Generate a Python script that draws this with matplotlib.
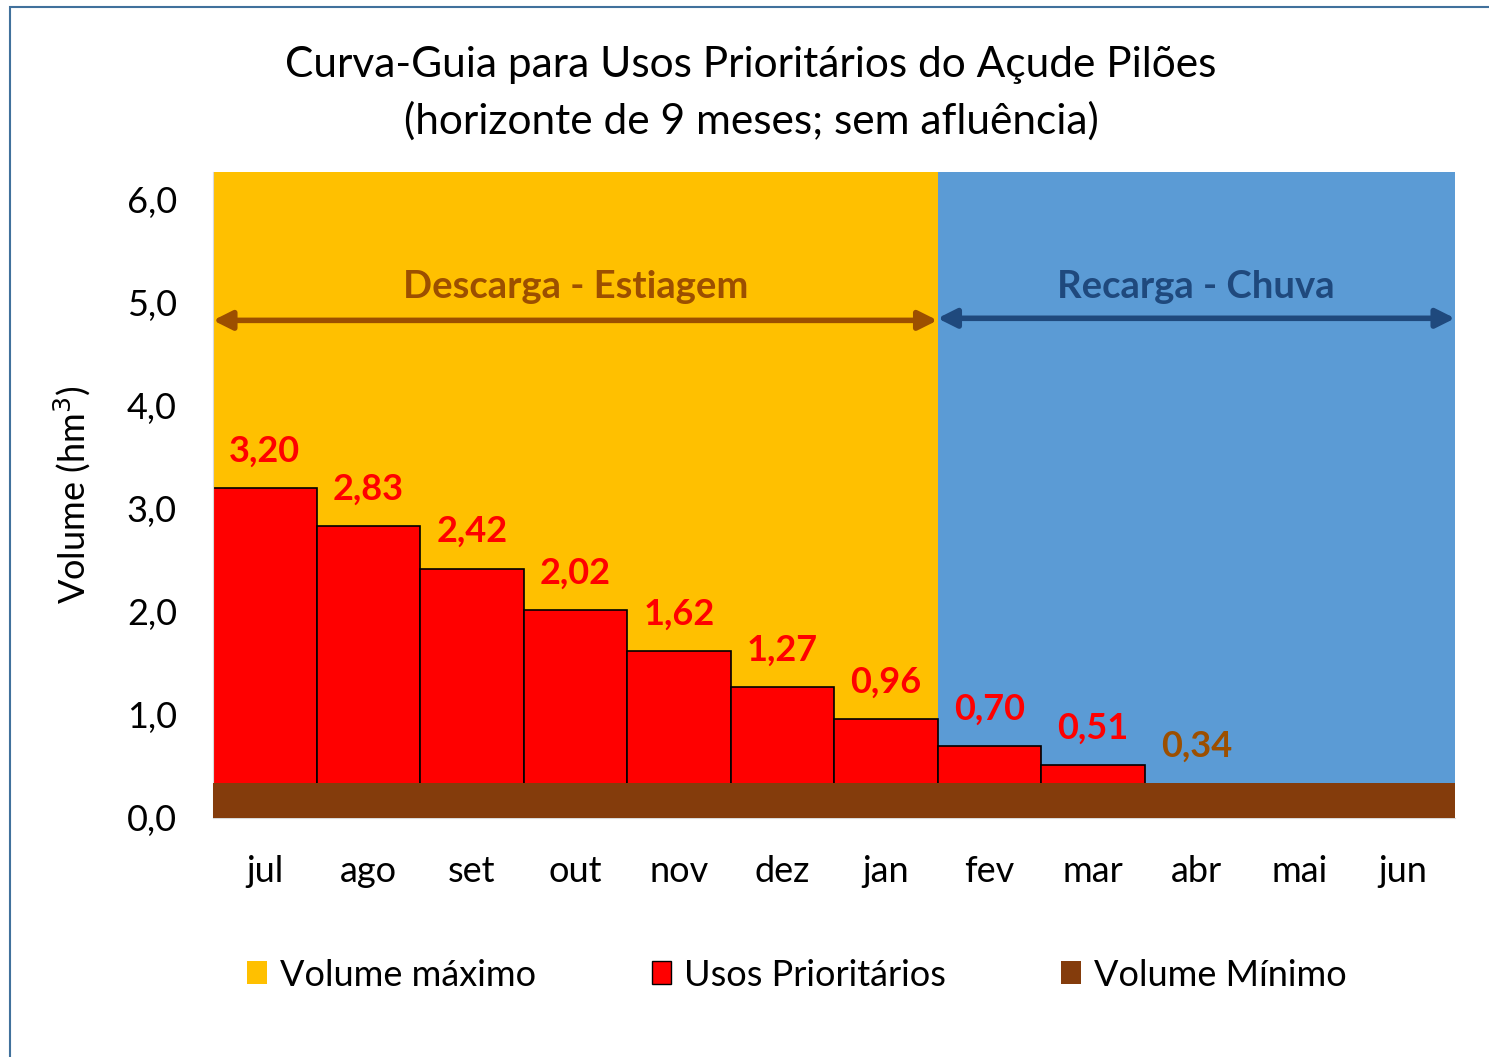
import numpy as np
import matplotlib.pyplot as plt
from matplotlib.patches import Patch, Rectangle

plt.rcParams['font.family'] = ['Lato', 'DejaVu Sans']

meses = ['jul', 'ago', 'set', 'out', 'nov', 'dez', 'jan', 'fev', 'mar', 'abr', 'mai', 'jun']
usos_prioritarios = [3.20, 2.83, 2.42, 2.02, 1.62, 1.27, 0.96, 0.70, 0.51, 0.34, None, None]
volume_minimo = [0.34] * 12
volume_maximo = [6.27] * 7  # jul..jan (descarga)
rotulos_ano = ['Descarga - Estiagem', 'Recarga - Chuva']
yticks = [0, 1, 2, 3, 4, 5, 6]

amarelo = '#FFC000'
azul = '#5B9BD5'
vermelho = '#FF0000'
marrom = '#843C0C'
marrom_txt = '#9C4F00'
azul_txt = '#1F497D'

fig = plt.figure(figsize=(14.89, 10.57), dpi=100)
fig.patches.append(Rectangle((10 / 1489, -0.1), 1.2, 1.1 - 7 / 1057,
                             transform=fig.transFigure, fill=False,
                             edgecolor='#41719C', lw=1.5))
ax = fig.add_axes([213 / 1489, 1 - 818 / 1057, (1455 - 213) / 1489, (818 - 172) / 1057])

x = np.arange(len(meses))
n_desc = len(volume_maximo)

# fundo: volume máximo (descarga) e faixa de recarga
ax.bar(x[:n_desc], volume_maximo, width=1.0, color=amarelo, zorder=1)
ax.axvspan(n_desc - 0.5, len(meses) - 0.5, color=azul, zorder=1, lw=0)

# usos prioritários
for i, v in enumerate(usos_prioritarios):
    if v is None or v <= volume_minimo[i]:
        continue
    ax.bar(x[i], v, width=1.0, color=vermelho, edgecolor='black', lw=1.2, zorder=2)

# volume mínimo
ax.bar(x, volume_minimo, width=1.0, color=marrom, zorder=3, lw=0)

# rótulos
for i, v in enumerate(usos_prioritarios):
    if v is None:
        continue
    cor = marrom_txt if v <= volume_minimo[i] else vermelho
    ax.text(x[i], v + 0.2, f'{v:.2f}'.replace('.', ','), ha='center', va='bottom',
            color=cor, fontsize=26, fontweight='bold', zorder=4)

# setas de período
ax.annotate('', xy=(-0.5, 4.83), xytext=(n_desc - 0.5, 4.83),
            arrowprops=dict(arrowstyle='<|-|>', color=marrom_txt, lw=4,
                            mutation_scale=28, shrinkA=0, shrinkB=0), zorder=5)
ax.annotate('', xy=(n_desc - 0.5, 4.85), xytext=(len(meses) - 0.5, 4.85),
            arrowprops=dict(arrowstyle='<|-|>', color=azul_txt, lw=4,
                            mutation_scale=28, shrinkA=0, shrinkB=0), zorder=5)
ax.text((n_desc - 1) / 2, 5.15, rotulos_ano[0], ha='center', va='center',
        color=marrom_txt, fontsize=27.5, fontweight='bold', zorder=5)
ax.text((n_desc + len(meses) - 1) / 2, 5.15, rotulos_ano[1], ha='center', va='center',
        color=azul_txt, fontsize=27.5, fontweight='bold', zorder=5)

ax.set_xlim(-0.5, len(meses) - 0.5)
ax.set_ylim(0, 6.27)
ax.set_xticks(x)
ax.set_xticklabels(meses, fontsize=26)
ax.set_yticks(yticks)
ax.set_yticklabels([f'{t:.1f}'.replace('.', ',') for t in yticks], fontsize=26)
ax.tick_params(axis='x', length=0, pad=27)
ax.tick_params(axis='y', length=0, pad=26)
for s in ['top', 'right']:
    ax.spines[s].set_visible(False)
for s in ['left', 'bottom']:
    ax.spines[s].set_color('#D9D9D9')
ax.set_ylabel('Volume (hm$^3$)', fontsize=26, labelpad=24)

fig.text(751 / 1489, 1 - 65 / 1057, 'Curva-Guia para Usos Prioritários do Açude Pilões',
         ha='center', va='center', fontsize=30.5)
fig.text(751 / 1489, 1 - 121 / 1057, '(horizonte de 9 meses; sem afluência)',
         ha='center', va='center', fontsize=30.5)

handles = [Patch(facecolor=amarelo, label='Volume máximo'),
           Patch(facecolor=vermelho, edgecolor='black', label='Usos Prioritários'),
           Patch(facecolor=marrom, label='Volume Mínimo')]
fig.legend(handles=handles, loc='center', bbox_to_anchor=(797 / 1489, 1 - 975 / 1057),
           ncol=3, frameon=False, fontsize=26, handlelength=0.55, handleheight=0.6,
           handletextpad=0.35, columnspacing=3.2)

fig.savefig('out.png', dpi=100)
